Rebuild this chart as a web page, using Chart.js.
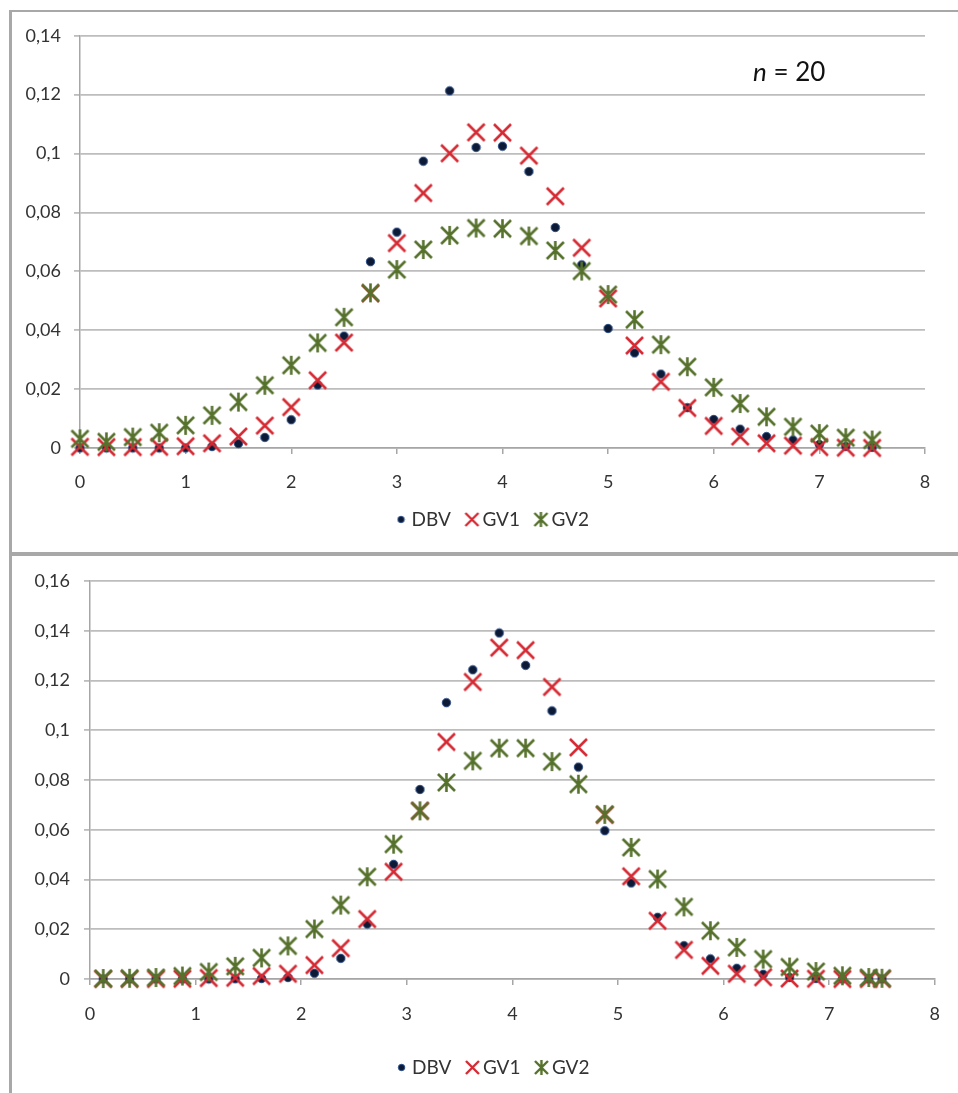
<!DOCTYPE html>
<html>
<head>
<meta charset="utf-8">
<script src="https://cdn.jsdelivr.net/npm/chart.js@4.4.1/dist/chart.umd.min.js"></script>
<style>
  html, body { margin: 0; padding: 0; background: #fff; }
  body { width: 958px; height: 1093px; position: relative; overflow: hidden; font-family: Lato, sans-serif; }
  .frame { position: absolute; box-sizing: border-box; border-left: 3px solid #a8a8a8; }
  #topFrame { left: 9px; top: 10px; width: 960px; height: 546px; border-top: 2px solid #a8a8a8; border-bottom: 4px solid #a8a8a8; }
  #bottomFrame { left: 9px; top: 556px; width: 960px; height: 540px; }
  .box { position: absolute; left: 12px; width: 946px; }
  #topBox { top: 12px; height: 540px; }
  #bottomBox { top: 556px; height: 537px; }
  #nLabel { position: absolute; left: 753px; top: 58px; font-size: 26px; line-height: 1; color: #111; }
</style>
</head>
<body>
<div id="topFrame" class="frame"></div>
<div id="bottomFrame" class="frame"></div>
<div id="topBox" class="box"><canvas id="topChart"></canvas></div>
<div id="bottomBox" class="box"><canvas id="bottomChart"></canvas></div>
<div id="nLabel"><i>n</i> = 20</div>
<script>
// ---- data ----
const seriesNames = ['DBV', 'GV1', 'GV2']

// top panel (n = 20)
const topX = [0, 0.25, 0.5, 0.75, 1, 1.25, 1.5, 1.75, 2, 2.25, 2.5, 2.75, 3, 3.25, 3.5, 3.75,
  4, 4.25, 4.5, 4.75, 5, 5.25, 5.5, 5.75, 6, 6.25, 6.5, 6.75, 7, 7.25, 7.5]
const topDBV = [0, 0, 0, 0, 0, 0.0005, 0.0015, 0.0036, 0.0096, 0.0214, 0.038, 0.0633, 0.0733, 0.0974, 0.1213, 0.1021,
  0.1025, 0.0939, 0.0749, 0.0622, 0.0406, 0.0323, 0.0251, 0.0137, 0.0097, 0.0064, 0.0039, 0.0027, 0.0012, 0.0005, 0.0002]
const topGV1 = [0.0004, 0.0003, 0.0003, 0.0004, 0.0006, 0.0016, 0.0039, 0.0076, 0.0139, 0.023, 0.0358, 0.0525, 0.0696, 0.0866, 0.1001, 0.1072,
  0.1071, 0.0993, 0.0855, 0.068, 0.0508, 0.0348, 0.0225, 0.0136, 0.0075, 0.0039, 0.0016, 0.0008, 0.0003, 0.0001, 0]
const topGV2 = [0.0031, 0.0021, 0.0037, 0.0052, 0.0077, 0.0111, 0.0156, 0.0213, 0.0281, 0.0357, 0.0444, 0.0527, 0.0606, 0.0674, 0.0722, 0.0747,
  0.0745, 0.072, 0.0671, 0.0601, 0.0521, 0.0436, 0.0351, 0.0276, 0.0206, 0.0151, 0.0106, 0.0072, 0.0049, 0.0035, 0.0027]

// bottom panel
const bottomX = [0.125, 0.375, 0.625, 0.875, 1.125, 1.375, 1.625, 1.875, 2.125, 2.375, 2.625, 2.875, 3.125, 3.375, 3.625, 3.875,
  4.125, 4.375, 4.625, 4.875, 5.125, 5.375, 5.625, 5.875, 6.125, 6.375, 6.625, 6.875, 7.125, 7.375, 7.5]
const bottomDBV = [0, 0, 0, 0, 0, 0.0001, 0.0002, 0.0006, 0.0023, 0.0083, 0.0221, 0.0461, 0.0762, 0.1111, 0.1243, 0.1391,
  0.1261, 0.1078, 0.0852, 0.0596, 0.0386, 0.0248, 0.0134, 0.0081, 0.0043, 0.0019, 0.0006, 0.0002, 0, 0, 0]
const bottomGV1 = [0, 0, 0, 0.0001, 0.0004, 0.0005, 0.0012, 0.0021, 0.0056, 0.0124, 0.0241, 0.0431, 0.0676, 0.0953, 0.1194, 0.1332,
  0.1322, 0.1174, 0.0931, 0.066, 0.0413, 0.0234, 0.0117, 0.0053, 0.0021, 0.0007, 0.0002, 0.0001, 0, 0, 0]
const bottomGV2 = [0.0002, 0.0003, 0.0006, 0.0012, 0.0028, 0.0051, 0.0085, 0.0133, 0.0201, 0.0297, 0.0411, 0.0542, 0.0676, 0.079, 0.0877, 0.0928,
  0.0928, 0.0874, 0.0783, 0.0662, 0.0529, 0.0402, 0.029, 0.0194, 0.0127, 0.008, 0.0048, 0.003, 0.0013, 0.0006, 0.0003]

const xTicks = [0, 1, 2, 3, 4, 5, 6, 7, 8]
const xTickLabels = ['0', '1', '2', '3', '4', '5', '6', '7', '8']
const topYTicks = [0, 0.02, 0.04, 0.06, 0.08, 0.1, 0.12, 0.14]
const topYLabels = ['0', '0,02', '0,04', '0,06', '0,08', '0,1', '0,12', '0,14']
const bottomYTicks = [0, 0.02, 0.04, 0.06, 0.08, 0.1, 0.12, 0.14, 0.16]
const bottomYLabels = ['0', '0,02', '0,04', '0,06', '0,08', '0,1', '0,12', '0,14', '0,16']

// ---- marker images ----
const BLUE = '#0c1a36'
const RED = '#d52a33'
const GREEN = '#56712c'

function dotImg(r) {
  const c = document.createElement('canvas')
  c.width = c.height = Math.ceil(r * 2 + 2)
  const g = c.getContext('2d')
  g.beginPath()
  g.arc(c.width / 2, c.height / 2, r, 0, Math.PI * 2)
  g.fillStyle = BLUE
  g.fill()
  g.lineWidth = 1
  g.strokeStyle = '#2a4c86'
  g.stroke()
  return c
}

function crossImg(size, lw, color, withBar) {
  const c = document.createElement('canvas')
  c.width = c.height = size + 4
  const g = c.getContext('2d')
  const a = 2, b = size + 2, m = c.width / 2
  g.strokeStyle = color
  g.lineWidth = lw
  g.lineCap = 'butt'
  g.beginPath()
  g.moveTo(a, a); g.lineTo(b, b)
  g.moveTo(b, a); g.lineTo(a, b)
  if (withBar) { g.moveTo(m, a - 1); g.lineTo(m, b + 1) }
  g.stroke()
  return c
}

const markers = {
  DBV: dotImg(4.2),
  GV1: crossImg(17, 2.6, RED, false),
  GV2: crossImg(17, 2.6, GREEN, true)
}
const legendMarkers = {
  DBV: dotImg(3.2),
  GV1: crossImg(13, 2.4, RED, false),
  GV2: crossImg(13, 2.4, GREEN, true)
}

function points(xs, ys) {
  return xs.map((x, i) => ({ x: x, y: ys[i] }))
}

// shift legend row sideways so it sits where the original one does
const legendShift = {
  id: 'legendShift',
  afterLayout(chart, args, opts) {
    if (chart.legend && opts.dx) {
      chart.legend.left += opts.dx
      chart.legend.right += opts.dx
    }
  }
}

const tickFont = { family: 'Lato', size: 18 }
const gridColor = '#bdbdbd'

function makeChart(id, xs, series, yTicks, yLabels, lay) {
  const ctx = document.getElementById(id).getContext('2d')
  return new Chart(ctx, {
    type: 'scatter',
    data: {
      datasets: seriesNames.map((name, i) => ({
        label: name,
        data: points(xs, series[i]),
        pointStyle: markers[name],
        pointRadius: 9,
        order: 3 - i,
        clip: false
      }))
    },
    options: {
      responsive: true,
      maintainAspectRatio: false,
      animation: false,
      events: [],
      layout: { padding: { top: lay.top, left: 0, right: lay.right, bottom: lay.bottom } },
      scales: {
        x: {
          type: 'linear',
          min: 0,
          max: 8,
          afterBuildTicks: s => { s.ticks = xTicks.map(v => ({ value: v })) },
          afterFit: s => { s.height = lay.xh },
          ticks: {
            font: tickFont,
            color: '#333',
            padding: lay.xpad,
            maxRotation: 0,
            callback: (v, i) => xTickLabels[i]
          },
          grid: { drawOnChartArea: false, drawTicks: true, tickLength: 6, color: '#a6a6a6', lineWidth: 1.5 },
          border: { color: '#a6a6a6', width: 1.5 }
        },
        y: {
          min: yTicks[0],
          max: yTicks[yTicks.length - 1],
          afterBuildTicks: s => { s.ticks = yTicks.map(v => ({ value: v })) },
          afterFit: s => { s.width = lay.yw },
          ticks: {
            font: tickFont,
            color: '#333',
            padding: lay.ypad,
            callback: (v, i) => yLabels[i]
          },
          grid: { color: gridColor, lineWidth: 1.8, tickLength: 6 },
          border: { color: '#a6a6a6', width: 1.5 }
        }
      },
      plugins: {
        tooltip: { enabled: false },
        legendShift: { dx: lay.legendDx },
        legend: {
          position: 'bottom',
          labels: {
            usePointStyle: true,
            boxWidth: 2,
            padding: 20,
            color: '#333',
            font: { family: 'Lato', size: 19 },
            generateLabels: chart => seriesNames.map((name, i) => ({
              text: name,
              pointStyle: legendMarkers[name],
              fillStyle: 'transparent',
              strokeStyle: 'transparent',
              lineWidth: 0,
              fontColor: '#333',
              datasetIndex: i,
              hidden: false
            }))
          }
        }
      }
    },
    plugins: [legendShift]
  })
}

makeChart('topChart', topX, [topDBV, topGV1, topGV2], topYTicks, topYLabels,
  { top: 23, right: 33, bottom: 13, xh: 42, yw: 68, xpad: 17, ypad: 13, legendDx: 26 })

makeChart('bottomChart', bottomX, [bottomDBV, bottomGV1, bottomGV2], bottomYTicks, bottomYLabels,
  { top: 25, right: 16, bottom: 6, xh: 59, yw: 78, xpad: 18, ypad: 14, legendDx: 18 })
</script>
</body>
</html>
